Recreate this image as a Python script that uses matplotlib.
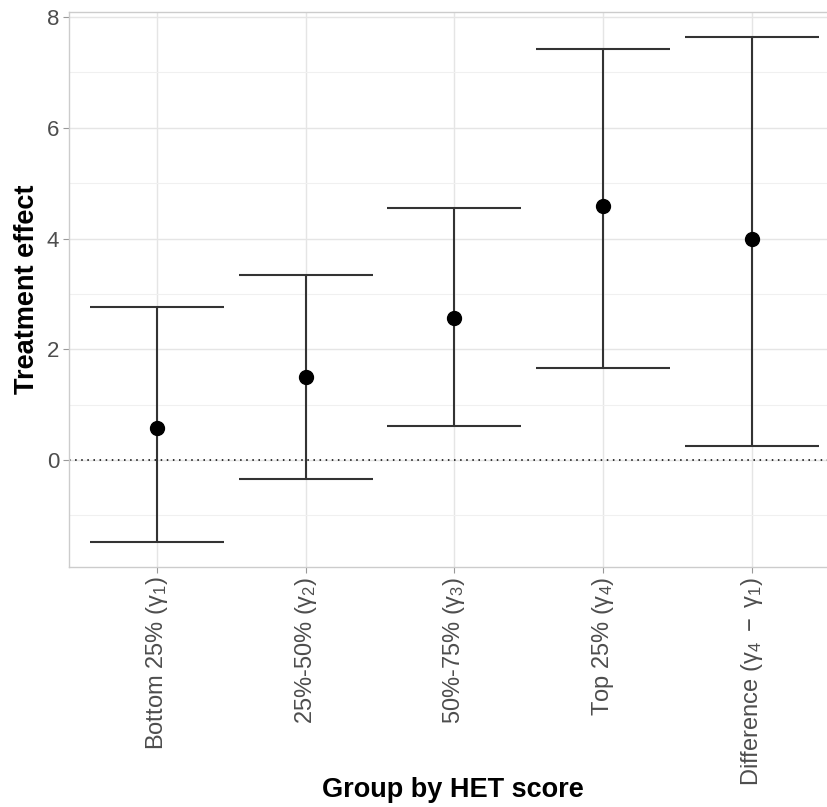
import numpy as np
import matplotlib
matplotlib.use('Agg')
from matplotlib import pyplot as plt
from matplotlib.ticker import MultipleLocator

plt.rcParams['font.family'] = ['Liberation Sans', 'DejaVu Sans']
plt.rcParams['mathtext.fontset'] = 'custom'
plt.rcParams['mathtext.rm'] = 'Liberation Sans'
plt.rcParams['mathtext.it'] = 'Liberation Sans'

# data
groups = [r'Bottom 25% ($\mathrm{\gamma}_1$)', r'25%-50% ($\mathrm{\gamma}_2$)',
          r'50%-75% ($\mathrm{\gamma}_3$)', r'Top 25% ($\mathrm{\gamma}_4$)',
          r'Difference ($\mathrm{\gamma}_4\ -\ \mathrm{\gamma}_1$)']
estimate = [0.58, 1.50, 2.56, 4.59, 3.99]
lower = [-1.48, -0.35, 0.61, 1.66, 0.25]
upper = [2.77, 3.35, 4.55, 7.43, 7.64]

x = np.arange(1, len(groups) + 1)
est = np.array(estimate)
yerr = [est - np.array(lower), np.array(upper) - est]

fig = plt.figure(figsize=(8.28, 8.07), dpi=100)
ax = fig.add_axes([69 / 828, 1 - 567 / 807, 1 - 69 / 828, (567 - 12) / 807])

ax.errorbar(x, est, yerr=yerr, fmt='none', ecolor='#333333', elinewidth=1.5,
            capsize=48, capthick=1.5, zorder=3)
ax.plot(x, est, 'o', color='black', markersize=10, zorder=4)
ax.axhline(0, color='black', linestyle=(0, (1, 3)), linewidth=1.1, zorder=2)

ax.set_xlim(0.41, 5.51)
ax.set_ylim(-1.93, 8.09)
ax.set_xticks(x)
ax.set_xticklabels(groups, rotation=90)
ax.yaxis.set_major_locator(MultipleLocator(2))
ax.yaxis.set_minor_locator(MultipleLocator(1))

ax.grid(which='major', color='#e5e5e5', linewidth=1.0)
ax.grid(which='minor', axis='y', color='#f0f0f0', linewidth=0.8)
ax.set_axisbelow(True)
for s in ax.spines.values():
    s.set_color('#cccccc')
    s.set_linewidth(1.0)

ax.tick_params(axis='both', which='major', labelsize=16, colors='#4d4d4d', length=4,
               width=0.8, color='#999999', pad=3)
ax.tick_params(axis='x', labelsize=17)
ax.tick_params(axis='y', which='minor', length=0)

# x title placed by hand below the long rotated labels
fig.text(453 / 828, 1 - 790 / 807, 'Group by HET score', fontsize=19.5,
         fontweight='bold', ha='center', va='center')
ax.set_ylabel('Treatment effect', fontsize=19.5, fontweight='bold', labelpad=5)

fig.savefig('out.png', dpi=100)
